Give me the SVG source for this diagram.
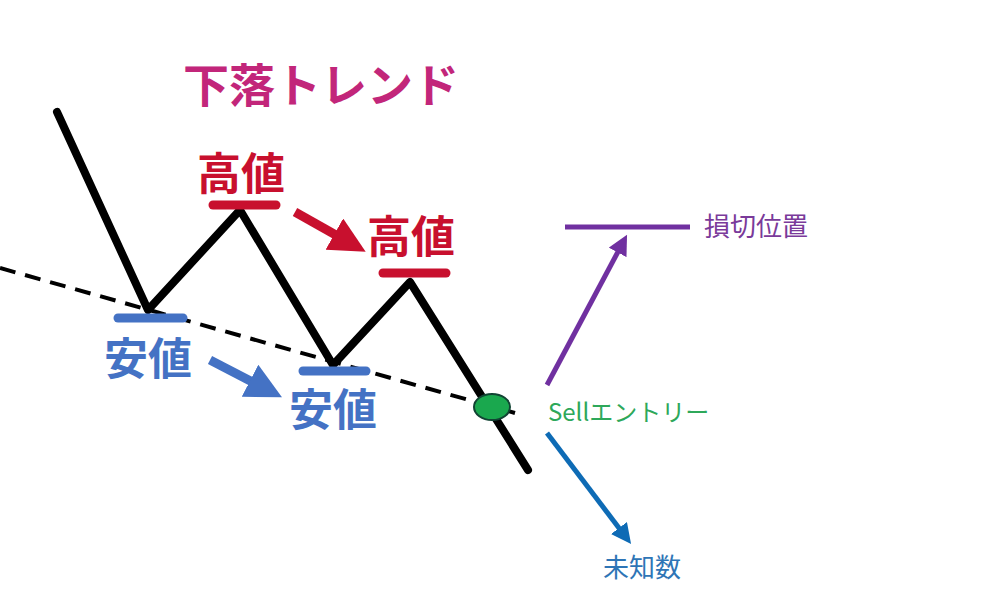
<svg xmlns="http://www.w3.org/2000/svg" width="985" height="603" viewBox="0 0 985 603">
<style>
.b{font-family:"Noto Sans CJK JP","Noto Sans",sans-serif;font-weight:bold}
.n{font-family:"Noto Sans CJK JP","Noto Sans",sans-serif}
</style>
<defs>
<marker id="mr" markerWidth="4" markerHeight="4" refX="2" refY="2" orient="auto"><path d="M0,0L4,2L0,4z" fill="#c8102e"/></marker>
<marker id="mb" markerWidth="4" markerHeight="4" refX="2" refY="2" orient="auto"><path d="M0,0L4,2L0,4z" fill="#4472c4"/></marker>
<marker id="mp" markerWidth="4" markerHeight="4" refX="1" refY="2" orient="auto"><path d="M0,0L4,2L0,4z" fill="#7030a0"/></marker>
<marker id="mu" markerWidth="4" markerHeight="4" refX="1" refY="2" orient="auto"><path d="M0,0L4,2L0,4z" fill="#0e6bb5"/></marker>
</defs>
<rect width="985" height="603" fill="#fff"/>
<g id="connectors">
<polyline points="57,112 148,310 240,210 333,365 410,282 528,470" fill="none" stroke="#000" stroke-width="8" stroke-linecap="round" stroke-linejoin="round"/>
<line x1="0" y1="268" x2="515" y2="413" stroke="#000" stroke-width="4" stroke-dasharray="16,10"/>
<line x1="295" y1="212" x2="350" y2="243" stroke="#c8102e" stroke-width="9" marker-end="url(#mr)"/>
<line x1="210" y1="360" x2="266" y2="389" stroke="#4472c4" stroke-width="9" marker-end="url(#mb)"/>
<line x1="547" y1="385" x2="620" y2="248" stroke="#7030a0" stroke-width="5" marker-end="url(#mp)"/>
<line x1="547" y1="433" x2="622" y2="532" stroke="#0e6bb5" stroke-width="5" marker-end="url(#mu)"/>
</g>
<g id="bars">
<line x1="213" y1="205" x2="276" y2="205" stroke="#c8102e" stroke-width="9" stroke-linecap="round"/>
<line x1="383" y1="273" x2="446" y2="273" stroke="#c8102e" stroke-width="9" stroke-linecap="round"/>
<line x1="118" y1="318" x2="183" y2="318" stroke="#4472c4" stroke-width="9" stroke-linecap="round"/>
<line x1="303" y1="371" x2="366" y2="371" stroke="#4472c4" stroke-width="9" stroke-linecap="round"/>
<line x1="565" y1="227" x2="690" y2="227" stroke="#7030a0" stroke-width="5"/>
</g>
<g id="entry"><ellipse cx="492" cy="407" rx="18" ry="13" fill="#1aa84e" stroke="#114433" stroke-width="2"/></g>
<g id="title"><text x="183" y="102" class="b" font-size="46" fill="#c2267a">下落トレンド</text></g>
<g id="high1"><text x="197" y="190" class="b" font-size="44" fill="#c8102e">高値</text></g>
<g id="high2"><text x="367" y="253" class="b" font-size="44" fill="#c8102e">高値</text></g>
<g id="low1"><text x="104" y="375" class="b" font-size="44" fill="#4472c4">安値</text></g>
<g id="low2"><text x="289" y="426" class="b" font-size="44" fill="#4472c4">安値</text></g>
<g id="stop"><text x="704" y="236" class="n" font-size="26" fill="#7a3a9a">損切位置</text></g>
<g id="sell"><text x="548" y="421" class="n" font-size="24" fill="#2ea85a">Sellエントリー</text></g>
<g id="unknown"><text x="603" y="577" class="n" font-size="26" fill="#2e75b6">未知数</text></g>
</svg>
